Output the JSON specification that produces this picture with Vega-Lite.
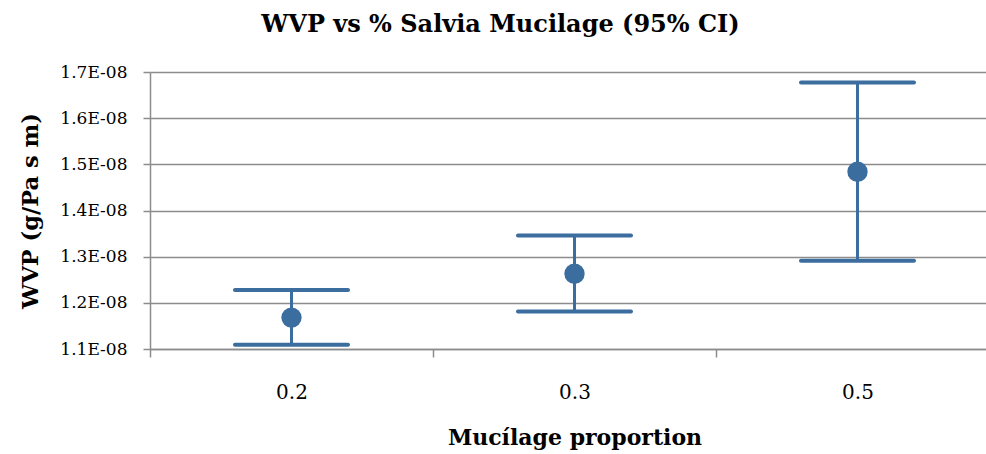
{
  "$schema": "https://vega.github.io/schema/vega-lite/v6.json",
  "width": 849,
  "height": 277,
  "autosize": {"type": "none"},
  "padding": {"left": 150, "top": 72, "right": 0, "bottom": 105},
  "background": "white",
  "title": {
    "text": "WVP vs % Salvia Mucilage (95% CI)",
    "font": "DejaVu Serif",
    "fontSize": 24,
    "fontWeight": "bold",
    "color": "black",
    "anchor": "middle",
    "dx": -74,
    "offset": 26
  },
  "config": {"view": {"stroke": null}},
  "data": {
    "values": [
      {"p": "0.2", "mean": 1.168e-8, "lo": 1.109e-8, "hi": 1.228e-8},
      {"p": "0.3", "mean": 1.263e-8, "lo": 1.181e-8, "hi": 1.346e-8},
      {"p": "0.5", "mean": 1.484e-8, "lo": 1.291e-8, "hi": 1.677e-8}
    ]
  },
  "encoding": {
    "x": {
      "field": "p",
      "type": "ordinal",
      "scale": {"type": "band", "paddingInner": 0, "paddingOuter": 0},
      "axis": {
        "title": "Mucílage proportion",
        "titleFont": "DejaVu Serif",
        "titleFontSize": 22,
        "titleFontWeight": "bold",
        "titleColor": "black",
        "titlePadding": 25,
        "labelAngle": 0,
        "labelFont": "DejaVu Serif",
        "labelFontSize": 20,
        "labelColor": "black",
        "labelPadding": 25,
        "tickBand": "extent",
        "tickSize": 8,
        "tickColor": "#8c8c8c",
        "tickWidth": 1.5,
        "domainColor": "#8c8c8c",
        "domainWidth": 1.5
      }
    }
  },
  "layer": [
    {
      "mark": {"type": "rule", "color": "#3b6d9f", "strokeWidth": 3},
      "encoding": {
        "y": {
          "field": "lo",
          "type": "quantitative",
          "scale": {"domain": [1.1e-8, 1.7e-8], "nice": false, "zero": false},
          "axis": {
            "title": "WVP (g/Pa s m)",
            "titleFont": "DejaVu Serif",
            "titleFontSize": 22.5,
            "titleFontWeight": "bold",
            "titleColor": "black",
            "titlePadding": 17,
            "values": [1.1e-8, 1.2e-8, 1.3e-8, 1.4e-8, 1.5e-8, 1.6e-8, 1.7e-8],
            "labelExpr": "replace(format(datum.value, '.1e'), 'e-8', 'E-08')",
            "labelFont": "DejaVu Serif",
            "labelFontSize": 17,
            "labelColor": "black",
            "labelPadding": 16,
            "tickSize": 7,
            "tickColor": "#8c8c8c",
            "tickWidth": 1.5,
            "domainColor": "#8c8c8c",
            "domainWidth": 1.5,
            "grid": true,
            "gridColor": "#8c8c8c",
            "gridWidth": 1.5
          }
        },
        "y2": {"field": "hi"}
      }
    },
    {
      "mark": {"type": "tick", "color": "#3b6d9f", "size": 117, "thickness": 4, "cornerRadius": 2, "opacity": 1},
      "encoding": {"y": {"field": "lo", "type": "quantitative"}}
    },
    {
      "mark": {"type": "tick", "color": "#3b6d9f", "size": 117, "thickness": 4, "cornerRadius": 2, "opacity": 1},
      "encoding": {"y": {"field": "hi", "type": "quantitative"}}
    },
    {
      "mark": {"type": "point", "shape": "circle", "filled": true, "color": "#3b6d9f", "size": 415, "opacity": 1},
      "encoding": {"y": {"field": "mean", "type": "quantitative"}}
    }
  ]
}
